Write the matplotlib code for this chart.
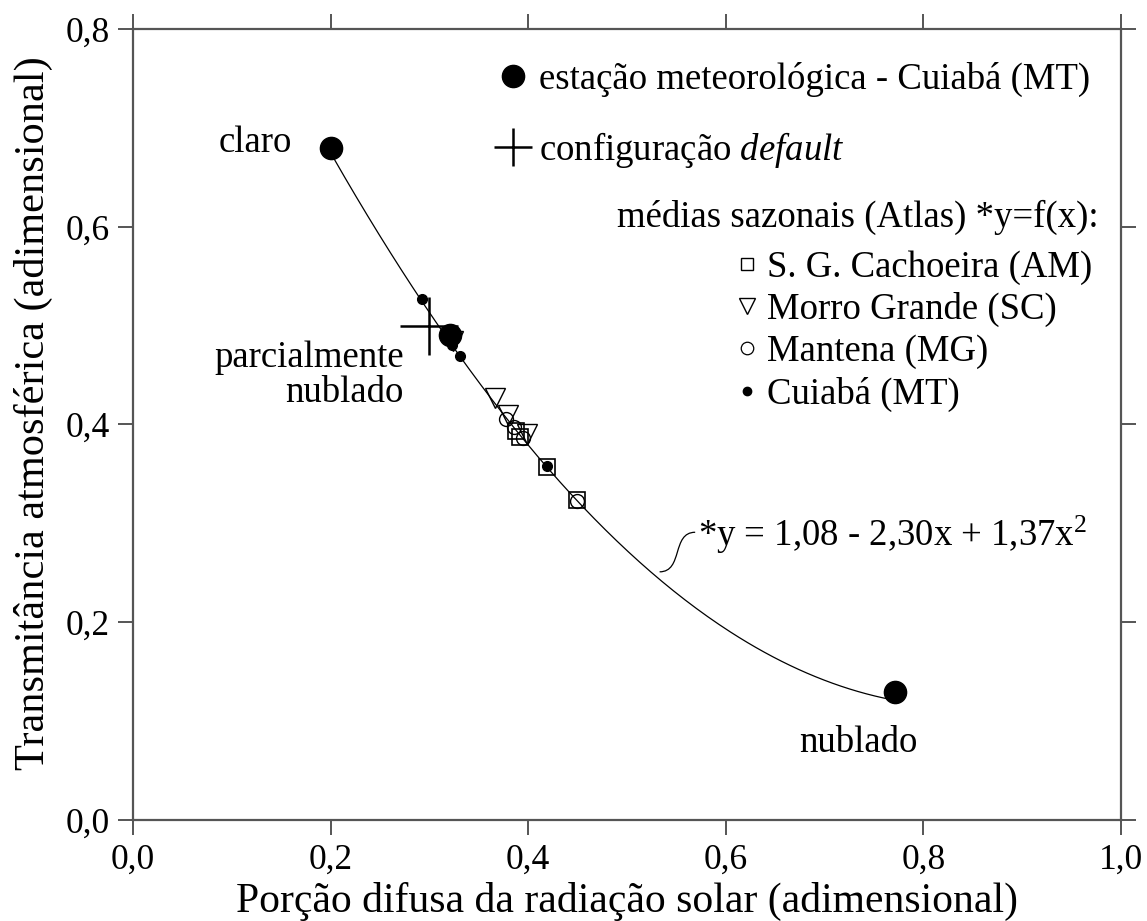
import numpy as np
import matplotlib
matplotlib.use("Agg")
import matplotlib.pyplot as plt
from matplotlib.lines import Line2D
from matplotlib.path import Path
from matplotlib.patches import PathPatch

plt.rcParams['font.family'] = ['Liberation Serif', 'DejaVu Serif']
plt.rcParams['mathtext.fontset'] = 'custom'
plt.rcParams['mathtext.rm'] = 'Liberation Serif'
plt.rcParams['mathtext.it'] = 'Liberation Serif:italic'

# --- data ---
station_x = [0.200, 0.321, 0.771]
station_y = [0.680, 0.4905, 0.1295]
station_labels = ["claro", "parcialmente\nnublado", "nublado"]

default_x = [0.300]
default_y = [0.500]

sgc_x = [0.388, 0.392, 0.419, 0.449]   # S. G. Cachoeira (AM)
sgc_y = [0.393, 0.387, 0.357, 0.3235]
mg_x = [0.324, 0.366, 0.380, 0.399]    # Morro Grande (SC)
mg_y = [0.484, 0.427, 0.410, 0.390]
man_x = [0.378, 0.386, 0.395, 0.449]   # Mantena (MG)
man_y = [0.406, 0.397, 0.386, 0.323]
cui_x = [0.2925, 0.323, 0.331, 0.419]  # Cuiabá (MT)
cui_y = [0.527, 0.480, 0.469, 0.358]

coef = [1.08, -2.30, 1.37]   # y = a + b x + c x^2
fit_range = [0.200, 0.771]

xticks = [0.0, 0.2, 0.4, 0.6, 0.8, 1.0]
yticks = [0.0, 0.2, 0.4, 0.6, 0.8]
xticklabels = ["0,0", "0,2", "0,4", "0,6", "0,8", "1,0"]
yticklabels = ["0,0", "0,2", "0,4", "0,6", "0,8"]

W, H = 1147, 921
FS = 26.5
fig = plt.figure(figsize=(W / 100, H / 100), dpi=100)
ax = fig.add_axes([133 / W, 1 - 820 / H, (1121 - 133) / W, (820 - 29) / H])
ax.set_xlim(0, 1.0)
ax.set_ylim(0, 0.8)

spine_col = '#555555'
for s in ax.spines.values():
    s.set_color(spine_col)
    s.set_linewidth(1.6)

ax.set_xticks(xticks)
ax.set_xticklabels(xticklabels)
ax.set_yticks(yticks)
ax.set_yticklabels(yticklabels)
ax.tick_params(axis='both', direction='out', length=11, width=1.4, color=spine_col,
               labelsize=25.5, top=True, right=True)
ax.tick_params(axis='x', pad=6)
ax.tick_params(axis='y', pad=6)

ax.set_xlabel("Porção difusa da radiação solar (adimensional)", fontsize=30, labelpad=4)
ax.set_ylabel("Transmitância atmosférica (adimensional)", fontsize=30.5)
ax.yaxis.set_label_coords(-0.081, 0.515)

# fitted curve
xs = np.linspace(fit_range[0], fit_range[1], 200)
ys = coef[0] + coef[1] * xs + coef[2] * xs ** 2
ax.plot(xs, ys, color='black', lw=0.9, zorder=1)

# seasonal means
ax.plot(sgc_x, sgc_y, ls='none', marker='s', ms=12, mfc='none', mec='black', mew=1.2, zorder=3)
ax.plot(mg_x, mg_y, ls='none', marker='v', ms=14, mfc='none', mec='black', mew=1.0, zorder=3)
ax.plot(man_x, man_y, ls='none', marker='o', ms=10, mfc='none', mec='black', mew=1.0, zorder=3)
ax.plot(cui_x, cui_y, ls='none', marker='o', ms=7, mfc='black', mec='black', zorder=4)

# station and default
ax.plot(station_x, station_y, ls='none', marker='o', ms=16, mfc='black', mec='black', zorder=2)
ax.plot(default_x, default_y, ls='none', marker='+', ms=42, mec='black', mew=1.8, zorder=5)

# station labels
ax.text(0.161, 0.685, station_labels[0], fontsize=FS, ha='right', va='center')
ax.text(0.274, 0.45, station_labels[1], fontsize=FS, ha='right', va='center',
        multialignment='right', linespacing=1.0)
ax.text(0.734, 0.078, station_labels[2], fontsize=FS, ha='center', va='center')

# equation annotation with S-shaped connector
eq_x, eq_y = 0.572, 0.288
ax.text(eq_x, eq_y, "*y = 1,08 - 2,30x + 1,37x$^2$", fontsize=FS, ha='left', va='center')
verts = [(0.569, 0.291), (0.545, 0.291), (0.557, 0.251), (0.533, 0.251)]
codes = [Path.MOVETO, Path.CURVE4, Path.CURVE4, Path.CURVE4]
ax.add_patch(PathPatch(Path(verts, codes), fc='none', ec='black', lw=0.9))

# legends
h1 = [Line2D([], [], ls='none', marker='o', ms=16, mfc='black', mec='black'),
      Line2D([], [], ls='none', marker='+', ms=28, mec='black', mew=1.8)]
l1 = ax.legend(h1, ["estação meteorológica - Cuiabá (MT)", "configuração $\\it{default}$"],
               loc='upper left', bbox_to_anchor=(495 / W, 1 - 62 / H),
               bbox_transform=fig.transFigure, frameon=False, fontsize=FS,
               borderpad=0, borderaxespad=0, handlelength=1.0, handletextpad=0.2,
               labelspacing=0.9)
ax.add_artist(l1)

ax.text(0.977, 0.609, "médias sazonais (Atlas) *y=f(x):", fontsize=FS, ha='right', va='center')

h2 = [Line2D([], [], ls='none', marker='s', ms=9, mfc='none', mec='black', mew=1.0),
      Line2D([], [], ls='none', marker='v', ms=11, mfc='none', mec='black', mew=1.0),
      Line2D([], [], ls='none', marker='o', ms=9, mfc='none', mec='black', mew=0.9),
      Line2D([], [], ls='none', marker='o', ms=6, mfc='black', mec='black')]
ax.legend(h2, ["S. G. Cachoeira (AM)", "Morro Grande (SC)", "Mantena (MG)", "Cuiabá (MT)"],
          loc='upper left', bbox_to_anchor=(736 / W, 1 - 250 / H),
          bbox_transform=fig.transFigure, frameon=False, fontsize=FS,
          borderpad=0, borderaxespad=0, handlelength=0.6, handletextpad=0.25,
          labelspacing=0.2)

fig.savefig("out.png", dpi=100)
